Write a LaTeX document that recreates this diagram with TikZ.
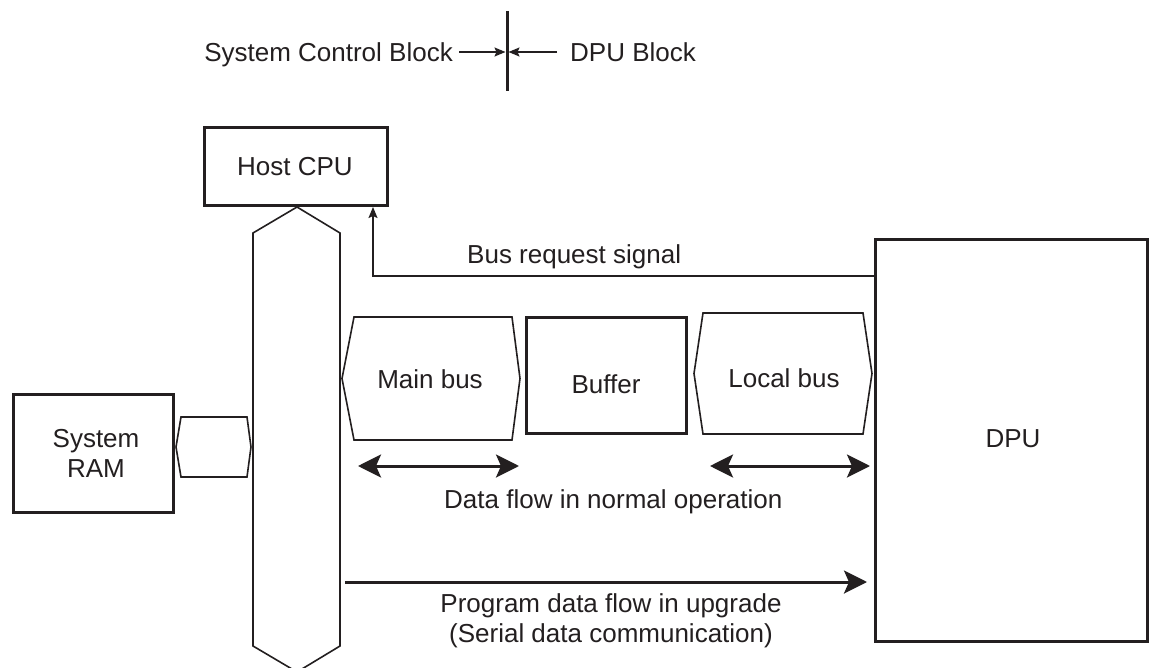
\documentclass[tikz,border=0pt]{standalone}
\usepackage{fontspec}
\setmainfont{Liberation Sans}
\usetikzlibrary{arrows.meta}
\definecolor{ink}{HTML}{231F20}
\tikzset{bighead/.tip={Stealth[length=23pt,width=23pt,inset=5pt]}}
\begin{document}
\begin{tikzpicture}[x=1pt,y=-1pt,
  txt/.style={font=\fontsize{26}{30}\selectfont, text=ink, inner sep=0pt, align=center},
  box/.style={draw=ink, line width=3pt, inner sep=0pt},
  busline/.style={draw=ink, line width=1.6pt, line join=miter},
  bigarrow/.style={draw=ink, line width=3pt},
  thinarrow/.style={draw=ink, line width=1.5pt, -{Stealth[length=11pt,width=9pt,inset=2pt]}},
]
\useasboundingbox (0,0) rectangle (1159,668);
\fill[white] (0,0) rectangle (1159,668);

% top legend
\node[txt, anchor=base east] (scb) at (453,61.5) {System Control Block};
\node[txt, anchor=base west] (dpub) at (570,61.5) {DPU Block};
\coordinate (divtop) at (507,11);
\coordinate (divbot) at (507,91);
\draw[ink, line width=3pt] (divtop) -- (divbot);
\coordinate (divl) at (505.5,52);
\coordinate (divr) at (508.5,52);
\draw[thinarrow] (459,52) -- (divl);
\draw[thinarrow] (557,52) -- (divr);

% boxes
\node[box, minimum width=183pt, minimum height=78pt] (host) at (296,166.5) {};
\node[txt, anchor=base] (hostlbl) at (295,176) {Host CPU};
\node[box, minimum width=160pt, minimum height=118pt] (ram) at (93.5,453.5) {};
\node[txt, anchor=base] (ramlbl) at (96,477) {System\\RAM};
\node[box, minimum width=160pt, minimum height=116pt] (buf) at (606.5,375.5) {};
\node[txt, anchor=base] (buflbl) at (606,393) {Buffer};
\node[box, minimum width=272pt, minimum height=402pt] (dpu) at (1011.5,440.5) {};
\node[txt, anchor=base] (dpulbl) at (1013,447) {DPU};

% system bus
\draw[busline] (297,207) -- (340,233) -- (340,646) -- (297,672) -- (253,646) -- (253,233) -- cycle;
% RAM connector
\draw[busline] (176,447) -- (181,417) -- (247,417) -- (251,447) -- (247,477) -- (181,477) -- cycle;
% main bus
\draw[busline] (342,378.5) -- (354,317) -- (512,317) -- (520,378.5) -- (512,440) -- (354,440) -- cycle;
\node[txt, anchor=base] (mainlbl) at (430,388) {Main bus};
% local bus
\draw[busline] (694,373.5) -- (703,313) -- (863,313) -- (872,373.5) -- (863,434) -- (703,434) -- cycle;
\node[txt, anchor=base] (locallbl) at (784,387) {Local bus};

% bus request
\coordinate (brk) at (373,276);
\draw[thinarrow] (dpu.west |- brk) -- (brk) -- (host.south -| brk);
\node[txt, anchor=base west] (brlbl) at (467,264) {Bus request signal};

% data flow arrows
\coordinate (ma) at (358,466);
\coordinate (mb) at (519,466);
\coordinate (la) at (710,466);
\coordinate (lb) at (870,466);
\draw[bigarrow, bighead-bighead] (ma) -- (mb);
\draw[bigarrow, bighead-bighead] (la) -- (lb);
\node[txt, anchor=base west] (dflbl) at (444,508) {Data flow in normal operation};

% program arrow
\coordinate (pa) at (345,582);
\coordinate (pb) at (867,582);
\draw[bigarrow, -bighead] (pa) -- (pb);
\node[txt, anchor=base] (pglbl) at (611,642) {Program data flow in upgrade\\(Serial data communication)};
\end{tikzpicture}
\end{document}
